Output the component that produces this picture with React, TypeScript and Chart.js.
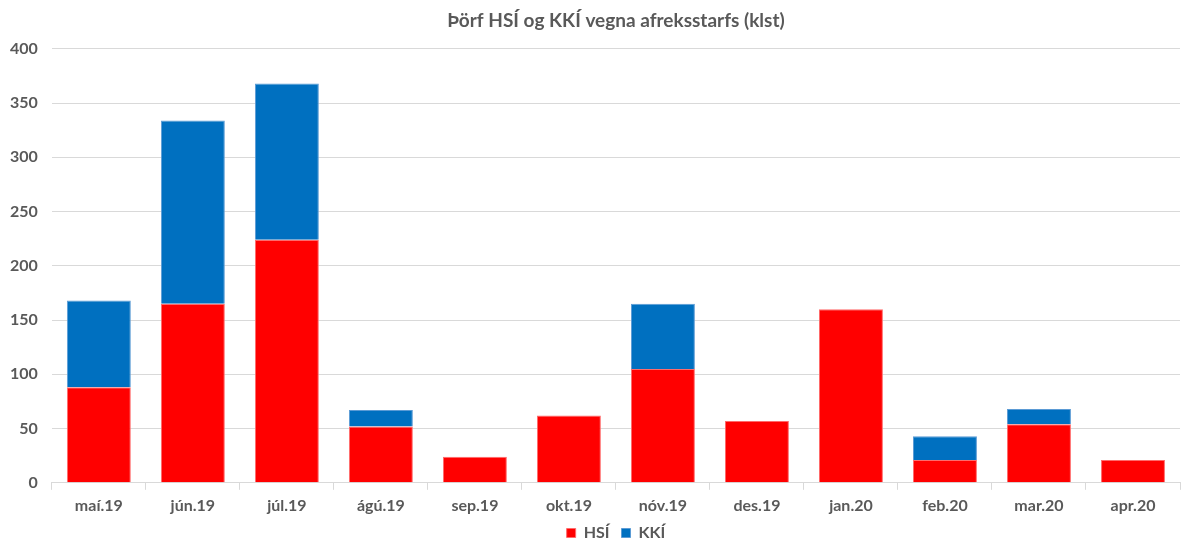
import React, { useEffect, useRef } from "react";
import { Chart, registerables } from "chart.js";

Chart.register(...registerables);

const categories = ["maí.19", "jún.19", "júl.19", "ágú.19", "sep.19", "okt.19", "nóv.19", "des.19", "jan.20", "feb.20", "mar.20", "apr.20"];
const hsiValues = [88, 165, 224, 52, 24, 62, 105, 57, 160, 21, 54, 21];
const kkiValues = [80, 169, 144, 15, 0, 0, 60, 0, 0, 22, 14, 0];
const yTicks = [0, 50, 100, 150, 200, 250, 300, 350, 400];

const FONT = "Lato, 'Open Sans', sans-serif";
const TEXT = "#595959";

const legendShift = {
  id: "legendShift",
  afterLayout(chart: any) {
    const lg = chart.legend;
    if (lg) {
      lg.top -= 8;
      lg.bottom -= 8;
    }
  },
};

export default function App() {
  const ref = useRef<HTMLCanvasElement | null>(null);
  useEffect(() => {
    document.body.style.margin = "0";
    const ctx = ref.current!;
    const chart = new Chart(ctx, {
      type: "bar",
      data: {
        labels: categories,
        datasets: [
          { label: "HSÍ", data: hsiValues, backgroundColor: "#ff0000", borderColor: "#ff6b6b", borderWidth: 1, barPercentage: 0.68, categoryPercentage: 1 },
          { label: "KKÍ", data: kkiValues, backgroundColor: "#0070c0", borderColor: "#5b9bd5", borderWidth: 1, barPercentage: 0.68, categoryPercentage: 1 },
        ],
      },
      plugins: [legendShift],
      options: {
        animation: false,
        responsive: false,
        maintainAspectRatio: false,
        layout: { padding: { left: -4, right: 5, top: 2, bottom: -20 } },
        plugins: {
          title: {
            display: true,
            fullSize: false,
            text: "Þörf HSÍ og KKÍ vegna afreksstarfs (klst)",
            color: TEXT,
            font: { family: FONT, size: 19, weight: "bold" },
            padding: { top: 7, bottom: 17 },
          },
          legend: {
            position: "bottom",
            fullSize: false,
            labels: {
              color: TEXT,
              font: { family: FONT, size: 16, weight: "bold" },
              boxWidth: 9,
              boxHeight: 9,
              padding: 12,
            },
          },
          tooltip: { enabled: false },
        },
        scales: {
          x: {
            stacked: true,
            grid: { offset: true, drawOnChartArea: false, drawTicks: true, tickLength: 7, color: "#d9d9d9" },
            border: { display: true, color: "#d9d9d9" },
            ticks: { color: TEXT, font: { family: FONT, size: 16, weight: "bold" }, padding: 6 },
          },
          y: {
            stacked: true,
            min: 0,
            max: 400,
            afterBuildTicks: (axis: any) => { axis.ticks = yTicks.map((v) => ({ value: v })); },
            grid: { color: "#d9d9d9", drawTicks: false },
            border: { display: false },
            ticks: { color: TEXT, font: { family: FONT, size: 16, weight: "bold" }, padding: 14 },
          },
        },
      },
    });
    return () => chart.destroy();
  }, []);
  return (
    <div style={{ width: 1185, height: 539 }}>
      <canvas ref={ref} width={1185} height={539} />
    </div>
  );
}
